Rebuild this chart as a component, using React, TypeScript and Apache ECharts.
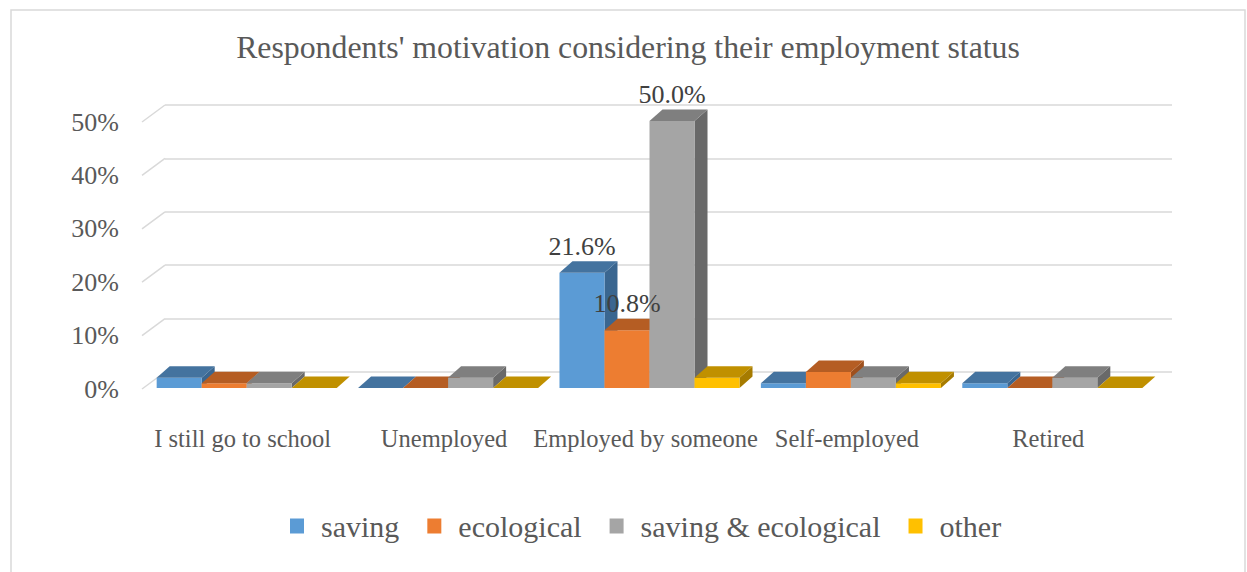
import React, { useEffect, useRef } from "react";
import * as echarts from "echarts";

const categories = ["I still go to school", "Unemployed", "Employed by someone", "Self-employed", "Retired"];
const seriesNames = ["saving", "ecological", "saving & ecological", "other"];
const saving = [1.9, 0, 21.6, 0.9, 0.9];
const ecological = [0.9, 0, 10.8, 3.0, 0];
const savingEcological = [0.9, 1.9, 50.0, 1.9, 1.9];
const other = [0, 0, 1.9, 0.9, 0];
const yTicks = [0, 10, 20, 30, 40, 50];

const frontColors = ["#5b9bd5", "#ed7d31", "#a5a5a5", "#ffc000"];
const topColors = ["#44739f", "#b55d23", "#7f7f7f", "#c09000"];
const sideColors = ["#3a6690", "#9e501e", "#696969", "#a67b00"];

const FONT = "'Liberation Serif', 'Times New Roman', serif";
const GRID_COLOR = "#d9d9d9";

export default function App() {
  const ref = useRef<HTMLDivElement>(null);

  useEffect(() => {
    document.body.style.margin = "0";
    const chart = echarts.init(ref.current!, null, { renderer: "svg" });
    const allValues = [saving, ecological, savingEcological, other];

    const BAR_RATIO = 0.2235;
    const OFF_X = 4;
    const OFF_Y = -1;
    const DX = 13;
    const DY = -11.5;

    const barSeries = allValues.map((vals, si) => ({
      type: "custom",
      name: seriesNames[si],
      xAxisIndex: 0,
      yAxisIndex: 0,
      itemStyle: { color: frontColors[si] },
      encode: { x: 0, y: 1 },
      data: categories.map((_, i) => [i, vals[i]]),
      renderItem: (params: any, api: any) => {
        const ci = api.value(0);
        const v = api.value(1);
        const base = api.coord([ci, 0]);
        const top = api.coord([ci, v]);
        const band = api.size([1, 0])[0];
        const bw = band * BAR_RATIO;
        const x0 = base[0] - 2 * bw + si * bw + OFF_X;
        const yb = base[1] + OFF_Y;
        const yt = top[1] + OFF_Y;
        const h = yb - yt;
        const children: any[] = [];
        if (h > 0.5) {
          children.push({
            type: "polygon",
            shape: { points: [[x0 + bw, yt], [x0 + bw, yb], [x0 + bw + DX, yb + DY], [x0 + bw + DX, yt + DY]] },
            style: { fill: sideColors[si] },
          });
          children.push({
            type: "rect",
            shape: { x: x0, y: yt, width: bw, height: h },
            style: { fill: frontColors[si] },
          });
        }
        children.push({
          type: "polygon",
          shape: { points: [[x0, yt], [x0 + bw, yt], [x0 + bw + DX, yt + DY], [x0 + DX, yt + DY]] },
          style: { fill: topColors[si] },
        });
        if (v >= 10) {
          children.push({
            type: "text",
            z2: 100,
            style: {
              text: v.toFixed(1) + "%",
              x: x0 + bw / 2,
              y: yt + DY - 15,
              align: "center",
              verticalAlign: "middle",
              fill: "#404040",
              font: `26px ${FONT}`,
            },
          });
        }
        return { type: "group", children };
      },
    }));

    const option: any = {
      animation: false,
      backgroundColor: "#ffffff",
      graphic: [
        {
          type: "rect",
          z: -10,
          shape: { x: 11, y: 10, width: 1234, height: 620 },
          style: { fill: "none", stroke: GRID_COLOR, lineWidth: 1.5 },
        },
        {
          type: "text",
          x: 628,
          y: 47,
          style: {
            text: "Respondents' motivation considering their employment status",
            align: "center",
            verticalAlign: "middle",
            fill: "#595959",
            font: `31.8px ${FONT}`,
          },
        },
      ],
      legend: {
        data: seriesNames,
        left: 285,
        top: 506,
        icon: "rect",
        itemWidth: 14,
        itemHeight: 15,
        itemGap: 28,
        textStyle: { color: "#595959", fontSize: 30, fontFamily: FONT, padding: [0, 0, 0, 12] },
      },
      grid: [
        { left: 142, top: 122, width: 1007, height: 267 },
        { left: 165, top: 105, width: 1007, height: 267 },
      ],
      xAxis: [
        {
          type: "category",
          gridIndex: 0,
          data: categories,
          axisLine: { show: false },
          axisTick: { show: false },
          axisLabel: { color: "#595959", fontSize: 24.5, fontFamily: FONT, margin: 37, interval: 0 },
        },
        { type: "value", gridIndex: 1, show: false, min: 0, max: 1 },
      ],
      yAxis: [
        {
          type: "value",
          gridIndex: 0,
          min: 0,
          max: 50,
          interval: 10,
          axisLine: { show: false },
          axisTick: { show: false },
          splitLine: { show: false },
          axisLabel: { color: "#595959", fontSize: 26, fontFamily: FONT, margin: 23, formatter: "{value}%" },
        },
        {
          type: "value",
          gridIndex: 1,
          min: 0,
          max: 50,
          interval: 10,
          axisLine: { show: false },
          axisTick: { show: false },
          axisLabel: { show: false },
          splitLine: { show: true, lineStyle: { color: GRID_COLOR, width: 1.5 } },
        },
      ],
      series: [
        {
          type: "custom",
          name: "sideGrid",
          xAxisIndex: 0,
          yAxisIndex: 0,
          silent: true,
          z: 1,
          encode: { x: 0, y: 1 },
          data: yTicks.map((t) => [0, t]),
          renderItem: (params: any, api: any) => {
            const p = api.coord([0, api.value(1)]);
            const left = params.coordSys.x;
            return {
              type: "line",
              shape: { x1: left, y1: p[1], x2: left + 23, y2: p[1] - 17 },
              style: { stroke: GRID_COLOR, lineWidth: 1.5 },
            };
          },
        },
        ...barSeries,
      ],
    };
    chart.setOption(option);
    return () => chart.dispose();
  }, []);

  return <div ref={ref} style={{ position: "absolute", left: 0, top: 0, width: 1247, height: 572 }} />;
}
